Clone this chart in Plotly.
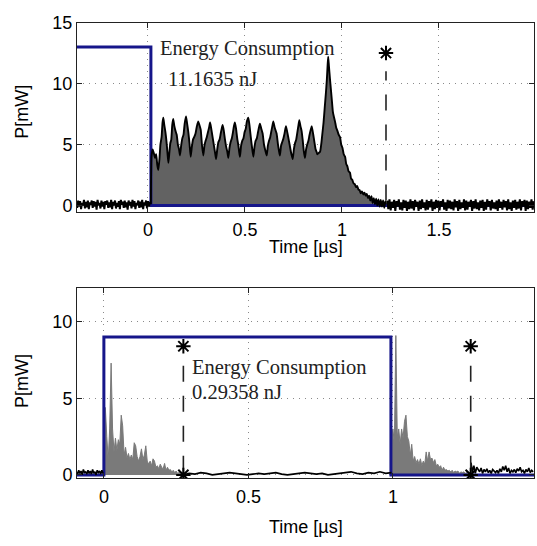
import plotly.graph_objects as go

# ---------------- data: top panel ----------------
top_pulse_t = [-0.37, 0.015, 0.015, 2.0]
top_pulse_v = [13.0, 13.0, 0.0, 0.0]

top_pre_t0, top_pre_dt = -0.37, 0.005
top_pre_v = [0.3,-0.2,0.4,-0.1,0.35,-0.3,0.2,0.0,0.45,-0.25,0.3,-0.15,0.4,-0.3,0.25,0.05,0.4,-0.2,0.35,-0.1,
             0.3,-0.35,0.45,0.0,0.2,-0.25,0.4,-0.1,0.3,-0.3,0.35,0.05,0.4,-0.2,0.25,-0.15,0.45,-0.3,0.3,0.0,
             0.4,-0.25,0.2,-0.1,0.35,-0.3,0.45,0.05,0.3,-0.2,0.4,-0.15,0.25,-0.35,0.4,0.0,0.3,-0.25,0.45,-0.1,
             0.35,-0.3,0.2,0.05,0.4,-0.2,0.3,-0.15,0.45,-0.3,0.25,0.0,0.4,-0.25,0.35,-0.1,0.3]

top_sig_t = [0.015,0.018,0.024,0.030,0.036,0.042,0.048,0.053,0.059,0.064,0.070,0.075,0.079,0.084,0.090,0.095,0.100,
             0.105,0.110,0.115,0.120,0.125,0.130,0.136,0.142,0.148,0.154,0.160,0.165,0.171,0.177,0.183,0.189,0.196,
             0.201,0.208,0.214,0.220,0.226,0.232,0.238,0.245,0.252,0.259,0.265,0.272,0.278,0.285,0.291,0.297,0.303,
             0.309,0.315,0.320,0.326,0.333,0.340,0.346,0.351,0.357,0.363,0.369,0.375,0.380,0.385,0.391,0.397,0.403,
             0.409,0.414,0.420,0.426,0.432,0.438,0.443,0.448,0.454,0.460,0.466,0.470,0.474,0.480,0.486,0.492,0.498,
             0.504,0.510,0.517,0.523,0.530,0.536,0.543,0.549,0.555,0.561,0.567,0.572,0.577,0.584,0.591,0.598,0.605,
             0.612,0.618,0.624,0.630,0.636,0.641,0.646,0.653,0.663,0.670,0.675,0.680,0.686,0.692,0.698,0.704,0.711,
             0.717,0.723,0.730,0.738,0.746,0.752,0.758,0.764,0.770,0.775,0.780,0.786,0.792,0.798,0.803,0.809,0.815,
             0.821,0.827,0.833,0.839,0.844,0.852,0.858,0.864,0.869,0.873,0.880,0.887,0.893,0.899,0.905,0.911,0.917,
             0.922,0.926,0.929,0.933,0.938,0.943,0.948,0.953,0.958,0.964,0.970,0.977,0.983,0.990,0.996,1.003,1.009,
             1.016,1.022,1.028,1.034,1.041,1.047,1.053,1.060,1.066,1.072,1.078,1.085,1.091,1.097,1.103,1.110,1.116,
             1.122,1.128,1.134,1.140,1.146,1.152,1.158,1.164,1.170,1.176,1.182,1.188,1.194,1.200,1.206,1.212,1.218,
             1.224,1.227]
top_sig_v = [0.1,4.0,4.6,4.3,3.9,4.2,3.3,2.9,3.8,5.0,5.6,6.8,7.2,6.6,6.0,5.3,4.4,
             3.5,4.3,5.1,5.4,6.6,7.1,6.5,6.1,5.8,5.0,4.6,4.1,4.9,5.5,5.8,6.7,7.3,
             6.8,6.0,5.1,4.0,4.8,5.4,5.6,5.9,6.5,6.9,6.6,6.2,5.0,4.1,4.9,5.3,5.6,
             6.0,6.4,6.8,6.3,5.6,4.9,4.3,3.8,4.6,5.2,5.4,5.9,6.3,6.6,6.1,5.4,4.8,
             4.4,3.9,4.7,5.2,5.5,6.0,6.5,6.8,6.3,5.5,4.9,4.4,4.0,4.9,5.3,5.5,6.0,
             6.3,6.9,7.2,6.6,5.6,4.8,4.0,4.8,5.3,5.5,6.0,6.4,6.7,6.3,5.9,5.0,4.5,
             4.1,4.9,5.3,5.6,6.1,6.5,6.9,6.4,5.9,5.0,4.5,4.1,4.9,5.2,5.5,5.9,6.5,
             6.1,5.6,5.0,4.3,3.8,4.6,5.1,5.4,6.0,6.5,7.0,6.5,6.1,5.3,4.5,3.9,4.6,
             5.0,5.3,5.8,6.2,6.5,5.8,5.2,4.6,4.4,4.2,4.3,4.4,5.0,5.9,6.8,8.0,9.2,
             10.3,11.5,12.2,11.4,10.4,9.5,8.6,7.7,7.3,6.9,6.4,6.1,5.8,5.6,5.0,4.7,4.2,
             4.0,3.4,3.2,2.8,2.7,2.2,2.1,1.8,1.75,1.5,1.6,1.3,1.25,1.0,1.15,0.9,1.05,
             0.8,0.95,0.6,0.8,0.4,0.75,0.2,0.6,0.1,0.55,0.0,0.5,-0.1,0.45,-0.1,0.4,-0.2,
             0.35,0.1]

top_tail_t0, top_tail_dt = 1.233, 0.006
top_tail_v = [0.4,-0.3,0.5,-0.4,0.3,-0.2,0.45,-0.45,0.35,-0.1,0.5,-0.35,0.25,-0.4,0.45,-0.2,0.4,-0.45,0.3,-0.3,
              0.5,-0.25,0.35,-0.4,0.45,-0.1,0.3,-0.45,0.4,-0.3,0.5,-0.2,0.25,-0.4,0.45,-0.35,0.35,-0.15,0.5,-0.45,
              0.3,-0.3,0.45,-0.2,0.4,-0.4,0.35,-0.1,0.5,-0.35,0.25,-0.45,0.45,-0.25,0.4,-0.3,0.3,-0.4,0.5,-0.15,
              0.35,-0.45,0.45,-0.3,0.25,-0.2,0.5,-0.4,0.4,-0.35,0.3,-0.1,0.45,-0.45,0.35,-0.25,0.5,-0.3,0.25,-0.4,
              0.4,-0.2,0.45,-0.45,0.3,-0.35,0.5,-0.1,0.35,-0.4,0.45,-0.25,0.25,-0.3,0.4,-0.45,0.5,-0.2,0.3,-0.35,
              0.45,-0.15,0.35,-0.4,0.5,-0.3,0.25,-0.45,0.4,-0.2,0.45,-0.35,0.3,-0.25,0.5,-0.4,0.35,-0.1,0.45,-0.45,
              0.4,-0.3,0.3,-0.2,0.5,-0.35,0.35]

top_marker_t = 1.227
top_marker_line = [0.4, 11.0]
top_marker_star = 12.5
top_energy = "11.1635 nJ"

# ---------------- data: bottom panel ----------------
bot_pulse_t = [-0.1, 0.0, 0.0, 0.993, 0.993, 1.5]
bot_pulse_v = [0.0, 0.0, 9.0, 9.0, 0.0, 0.0]

bot_pre_t0, bot_pre_dt = -0.095, 0.004
bot_pre_v = [0.2,0.05,0.3,0.1,0.25,0.0,0.35,0.15,0.2,0.05,0.3,0.1,0.25,0.05,0.35,0.1,0.2,0.0,0.3,0.15,0.25,0.05,0.3,0.1]

bot_burst1_t0, bot_burst1_dt = 0.0, 0.005
bot_burst1_v = [0.1,4.4,2.5,1.0,3.0,7.3,3.0,1.5,2.4,1.6,2.3,2.0,3.9,3.2,1.3,1.8,1.1,1.4,1.0,1.3,1.0,
                2.1,1.9,1.2,0.9,1.2,1.7,1.0,1.3,1.9,0.9,0.7,0.9,0.6,1.05,0.9,0.5,0.6,0.4,0.7,0.5,
                0.4,0.75,0.3,0.5,0.3,0.35,0.2,0.3,0.15,0.25,0.1,0.15,0.1,0.1,0.05]

bot_mid_t0, bot_mid_dt = 0.275, 0.02
bot_mid_v = [0.0,0.1,0.05,0.15,0.1,0.0,0.05,0.1,0.15,0.1,0.05,0.0,0.05,0.1,0.05,0.1,0.15,0.05,0.0,0.05,
             0.1,0.15,0.1,0.05,0.1,0.0,0.05,0.1,0.15,0.2,0.1,0.05,0.15,0.1,0.2,0.1,0.15]

bot_burst2_t0, bot_burst2_dt = 0.995, 0.005
bot_burst2_v = [2.5,3.0,2.0,9.1,2.5,3.0,2.0,3.0,2.4,3.5,3.9,2.5,2.2,1.3,2.0,0.9,1.2,0.8,1.0,0.7,1.05,
                0.6,0.9,0.7,1.5,0.9,1.5,1.0,1.1,0.8,1.0,0.6,0.7,0.5,0.6,0.3,0.5,0.3,0.35,0.25,0.3,
                0.2,0.3,0.15,0.25,0.2,0.25,0.1,0.2,0.15,0.2,0.1,0.15,0.1,0.15,0.05]

bot_tail_t0, bot_tail_dt = 1.27, 0.005
bot_tail_v = [0.8,0.2,0.6,0.1,0.5,0.3,0.2,0.45,0.1,0.35,0.2,0.4,0.15,0.3,0.1,0.35,0.25,0.15,0.3,0.1,0.4,0.2,
              0.55,0.3,0.6,0.2,0.45,0.1,0.3,0.2,0.35,0.15,0.4,0.25,0.5,0.2,0.3,0.1,0.35,0.2,0.45,0.15,0.3,0.2]

bot_marker_t = [0.275, 1.269]
bot_marker_line = [0.2, 7.7]
bot_marker_star = [8.4, 0.0]
bot_energy = "0.29358 nJ"

# ---------------- helpers ----------------
def grid(t0, dt, n):
    return [t0 + dt * i for i in range(n)]

BLUE = "#16168a"
GRAY_TOP = "#626262"
GRAY_BOT = "#7a7a7a"
SERIF = "Liberation Serif"
SANS = "Liberation Sans"
STAR = dict(symbol="asterisk-open", size=12, color="black", line=dict(color="black", width=2))

fig = go.Figure()

# ---- top panel ----
fig.add_trace(go.Scatter(x=top_sig_t, y=top_sig_v, mode="lines", fill="tozeroy",
                         fillcolor=GRAY_TOP, line=dict(width=0, color=GRAY_TOP, shape="spline", smoothing=0.5),
                         xaxis="x", yaxis="y", hoverinfo="skip"))
fig.add_trace(go.Scatter(x=top_pulse_t, y=top_pulse_v, mode="lines",
                         line=dict(color=BLUE, width=3), xaxis="x", yaxis="y"))
top_noise_t = grid(top_pre_t0, top_pre_dt, len(top_pre_v)) + [None] + grid(top_tail_t0, top_tail_dt, len(top_tail_v))
top_noise_v = top_pre_v + [None] + top_tail_v
fig.add_trace(go.Scatter(x=top_noise_t, y=top_noise_v, mode="lines", connectgaps=False,
                         line=dict(color="black", width=2), xaxis="x", yaxis="y"))
fig.add_trace(go.Scatter(x=top_sig_t, y=top_sig_v, mode="lines",
                         line=dict(color="black", width=1.9, shape="spline", smoothing=0.5),
                         xaxis="x", yaxis="y"))
fig.add_trace(go.Scatter(x=[top_marker_t, top_marker_t], y=top_marker_line, mode="lines",
                         line=dict(color="#222", width=1.6, dash="16px,14px"), xaxis="x", yaxis="y"))
fig.add_trace(go.Scatter(x=[top_marker_t], y=[top_marker_star], mode="markers",
                         marker=STAR, xaxis="x", yaxis="y"))

# ---- bottom panel ----
fig.add_trace(go.Scatter(x=grid(bot_burst1_t0, bot_burst1_dt, len(bot_burst1_v)), y=bot_burst1_v, mode="lines",
                         fill="tozeroy", fillcolor=GRAY_BOT, line=dict(width=1, color=GRAY_BOT),
                         xaxis="x2", yaxis="y2"))
fig.add_trace(go.Scatter(x=grid(bot_burst2_t0, bot_burst2_dt, len(bot_burst2_v)), y=bot_burst2_v, mode="lines",
                         fill="tozeroy", fillcolor=GRAY_BOT, line=dict(width=1, color=GRAY_BOT),
                         xaxis="x2", yaxis="y2"))
fig.add_trace(go.Scatter(x=bot_pulse_t, y=bot_pulse_v, mode="lines",
                         line=dict(color=BLUE, width=3), xaxis="x2", yaxis="y2"))
bot_black_t = (grid(bot_pre_t0, bot_pre_dt, len(bot_pre_v)) + [None] +
               grid(bot_mid_t0, bot_mid_dt, len(bot_mid_v)) + [None] +
               grid(bot_tail_t0, bot_tail_dt, len(bot_tail_v)))
bot_black_v = bot_pre_v + [None] + bot_mid_v + [None] + bot_tail_v
fig.add_trace(go.Scatter(x=bot_black_t, y=bot_black_v, mode="lines", connectgaps=False,
                         line=dict(color="black", width=1.6), xaxis="x2", yaxis="y2"))
for mt in bot_marker_t:
    fig.add_trace(go.Scatter(x=[mt, mt], y=bot_marker_line, mode="lines",
                             line=dict(color="#222", width=1.6, dash="16px,14px"), xaxis="x2", yaxis="y2"))
    fig.add_trace(go.Scatter(x=[mt, mt], y=bot_marker_star, mode="markers",
                             marker=STAR, xaxis="x2", yaxis="y2"))

axis_common = dict(showline=True, mirror="ticks", linecolor="#222", linewidth=1,
                   ticks="inside", ticklen=5, tickcolor="#222",
                   showgrid=True, gridcolor="#8a8a8a", gridwidth=1, griddash="1px,5px",
                   zeroline=False, tickfont=dict(family=SANS, size=18, color="black"))

fig.update_layout(
    width=537, height=546,
    margin=dict(l=0, r=0, t=0, b=0),
    paper_bgcolor="white", plot_bgcolor="white",
    showlegend=False,
    xaxis=dict(domain=[77/537, 534/537], range=[-0.366, 1.99], tickvals=[0, 0.5, 1, 1.5],
               ticktext=["0", "0.5", "1", "1.5"], anchor="y", ticklabelstandoff=2, **axis_common),
    yaxis=dict(domain=[1-208/546, 1-13/546], range=[-0.5, 15], tickvals=[0, 5, 10, 15],
               anchor="x", **axis_common),
    xaxis2=dict(domain=[77/537, 534/537], range=[-0.093, 1.488], tickvals=[0, 0.5, 1],
                ticktext=["0", "0.5", "1"], anchor="y2", ticklabelstandoff=2, **axis_common),
    yaxis2=dict(domain=[1-483/546, 1-287/546], range=[-0.2, 12.2], tickvals=[0, 5, 10],
                anchor="x2", **axis_common),
)

annots = [
    dict(x=0.052, y=12.9, xref="x", yref="y", text="Energy Consumption"),
    dict(x=0.093, y=10.4, xref="x", yref="y", text=top_energy),
    dict(x=0.298, y=7.0, xref="x2", yref="y2", text="Energy Consumption"),
    dict(x=0.298, y=5.4, xref="x2", yref="y2", text=bot_energy),
]
for a in annots:
    fig.add_annotation(**a, xanchor="left", yanchor="middle", showarrow=False,
                       font=dict(family=SERIF, size=20.5, color="#222"))

titles = [
    dict(x=22/537, y=1-105/546, text="P[mW]", textangle=-90),
    dict(x=22/537, y=1-383/546, text="P[mW]", textangle=-90),
    dict(x=306/537, y=1-245/546, text="Time [µs]", textangle=0),
    dict(x=306/537, y=1-534/546, text="Time [µs]", textangle=0),
]
for a in titles:
    fig.add_annotation(**a, xref="paper", yref="paper", xanchor="center", yanchor="middle",
                       showarrow=False, font=dict(family=SANS, size=18, color="black"))

fig.write_html("out.html")
